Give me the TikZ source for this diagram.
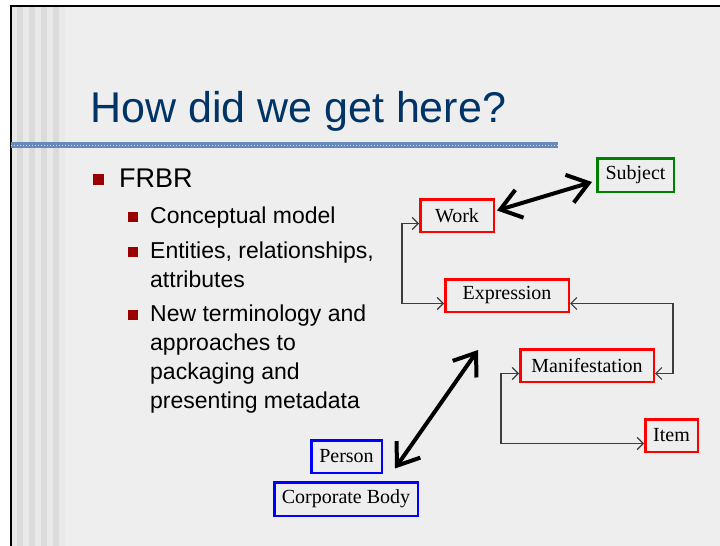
\documentclass[tikz,border=0pt]{standalone}
\usepackage{fontspec}
\setmainfont{Liberation Serif}
\setsansfont{Liberation Sans}
\usepackage{tikz}
\usetikzlibrary{calc}
\usetikzlibrary{arrows.meta}
\usepackage{color}
\definecolor{slidebg}{RGB}{238, 238, 238}
\definecolor{stripelight}{RGB}{233, 233, 233}
\definecolor{stripedark}{RGB}{219, 219, 219}
\definecolor{titleblue}{RGB}{0, 51, 102}
\definecolor{rulerblue}{RGB}{104, 138, 186}
\definecolor{bulletred}{RGB}{153, 0, 0}
\definecolor{boxred}{RGB}{255, 0, 0}
\definecolor{boxgreen}{RGB}{0, 128, 0}
\definecolor{boxblue}{RGB}{0, 0, 255}
\definecolor{linkgray}{RGB}{60, 60, 60}
\tikzset{
  entity/.style={draw, line width=2.5pt, minimum height=32.5pt, inner sep=0pt,
                 font=\rmfamily\fontsize{20}{24}\selectfont},
  link/.style={draw=linkgray, line width=1.2pt,
               {Straight Barb[length=6pt,width=12pt]}-{Straight Barb[length=6pt,width=12pt]}},
  bigarrow/.style={line width=4pt,
               {Straight Barb[length=20pt,width=29pt]}-{Straight Barb[length=20pt,width=29pt]}},
  bullettext/.style={anchor=base west, inner sep=0pt, align=left,
                 font=\sffamily\fontsize{23}{29}\selectfont},
  subbullet/.style={fill=bulletred, minimum size=9.5pt, inner sep=0pt},
}

\begin{document}
\begin{tikzpicture}[x=1pt, y=-1pt]
            \useasboundingbox                                   (0, 0)     rectangle (720, 546);
            \fill[white]                                        (0, 0)     rectangle (720, 546);
            \fill[slidebg]                                      (11, 6)    rectangle (720, 546);
            \fill[stripelight]                                  (11, 6)    rectangle (65, 546);
            \foreach \x in {17, 29, 41, 53}
                \fill[stripedark]                               (\x, 6)    rectangle (\x+6, 546);
            \draw[line width=2pt]                               (11, 546) -- (11, 6) -- (720, 6);
            \fill[rulerblue]                                    (11, 142)  rectangle (558, 148);
            \draw[white!70!rulerblue, line width=1pt, dash pattern=on 1pt off 2pt]
                                                                (11, 145) -- (558, 145);

            \node[anchor=base west, inner sep=0pt, text=titleblue,
                  font=\sffamily\fontsize{43}{50}\selectfont]   (title)   at (90, 122)  {How did we get here?};

            \node[anchor=base west, inner sep=0pt,
                  font=\sffamily\fontsize{27}{32}\selectfont]   (frbr)    at (119, 187) {FRBR};
            \node[fill=bulletred, minimum size=11pt, inner sep=0pt]
                                                 (frbrbullet) at ([shift={(-20.5,-7.5)}]frbr.base west) {};
            \node[bullettext]                    (concept)    at (150, 223) {Conceptual model};
            \node[bullettext]                    (entities)   at (150, 287) {Entities, relationships,\\attributes};
            \node[bullettext]                    (terms)      at (150, 408) {New terminology and\\approaches to\\packaging and\\presenting metadata};
            \node[subbullet]                     (conceptb)   at ([shift={(-17,-6)}]concept.base west)  {};
            \node[subbullet]                     (entitiesb)  at ([shift={(-17,-35)}]entities.base west) {};
            \node[subbullet]                     (termsb)     at ([shift={(-17,-93)}]terms.base west)    {};

            \node[entity, draw=boxgreen, minimum width=76.5pt, minimum height=33.5pt]
                                                 (subject)    at (635.5, 175)   {Subject};
            \node[entity, draw=boxred,   minimum width=73.5pt]   (work)          at (457, 215.5)   {Work};
            \node[entity, draw=boxred,   minimum width=123.5pt]  (expression)    at (507, 295.5)   {Expression};
            \node[entity, draw=boxred,   minimum width=133.5pt]  (manifestation) at (587, 365.5)   {Manifestation};
            \node[entity, draw=boxred,   minimum width=52.5pt]   (item)          at (671.5, 435.5) {Item};
            \node[entity, draw=boxblue,  minimum width=70.5pt]   (person)        at (346.5, 456.5) {Person};
            \node[entity, draw=boxblue,  minimum width=143.5pt, minimum height=33.5pt]
                                                 (corporate)  at (346, 499)     {Corporate Body};

            \draw[link] ([yshift=-8pt]work.west) -- ++(-17, 0) |- ([yshift=-8pt]expression.west);
            \draw[link] ([yshift=-8pt]expression.east) -- ++(103, 0) |- ([yshift=-8pt]manifestation.east);
            \draw[link] ([yshift=-8pt]manifestation.west) -- ++(-18, 0) |- ([yshift=-8pt]item.west);

            \coordinate (worktip)    at ([shift={(2,-5)}]work.east);
            \coordinate (subjecttip) at ([shift={(-4,7)}]subject.west);
            \coordinate (persontip)  at ([shift={(12,12)}]person.east);
            \coordinate (exprtip)    at ([shift={(-29,37)}]expression.south);
            \draw[bigarrow] (worktip) -- (subjecttip);
            \draw[bigarrow] (persontip) -- (exprtip);
\end{tikzpicture}
\end{document}
